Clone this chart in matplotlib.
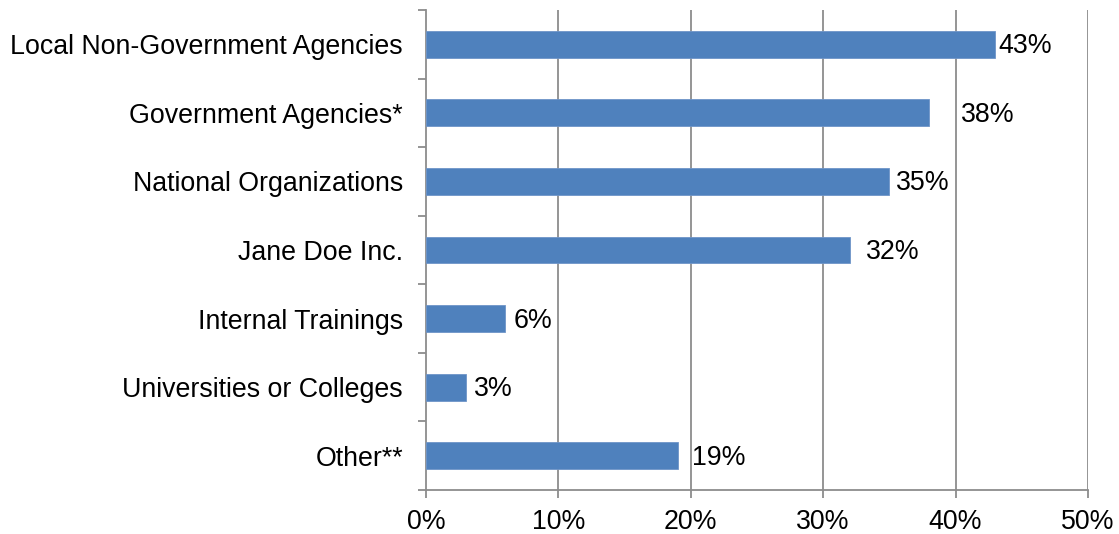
import matplotlib
matplotlib.use("Agg")
import matplotlib.pyplot as plt
import numpy as np

categories = ["Local Non-Government Agencies", "Government Agencies*", "National Organizations",
              "Jane Doe Inc.", "Internal Trainings", "Universities or Colleges", "Other**"]
values = [43, 38, 35, 32, 6, 3, 19]
label_offsets_px = [3, 32, 7, 16, 8, 8, 14]
x_ticks = [0, 10, 20, 30, 40, 50]

plt.rcParams['font.family'] = ['Liberation Sans', 'DejaVu Sans']
fig = plt.figure(figsize=(11.19, 5.34), dpi=100)
ax = fig.add_axes([426/1119, 1-490/534, (1088-426)/1119, 480/534])

FS = 19.3
n = len(categories)
y = np.arange(n)
bar_color = "#4F81BD"
ax.barh(y, values, height=0.39, color=bar_color, edgecolor="#6F95C8", linewidth=0.6, zorder=3)
ax.set_ylim(n - 0.5, -0.5)
ax.set_xlim(0, 50)

grid_c = "#8C8C8C"
for t in x_ticks[1:]:
    ax.axvline(t, color=grid_c, linewidth=1.3, zorder=1)

from matplotlib.transforms import offset_copy
for i, (v, off) in enumerate(zip(values, label_offsets_px)):
    tr = offset_copy(ax.transData, fig=fig, x=off, y=-2, units='dots')
    ax.text(v, i, f"{v}%", transform=tr, va="center", ha="left", fontsize=FS, color="black")

ax.set_yticks(y)
ax.set_yticklabels(categories, fontsize=FS)
ax.tick_params(axis='y', which='major', length=0, pad=16.5)
ax.set_yticks(np.arange(n + 1) - 0.5, minor=True)
ax.tick_params(axis='y', which='minor', length=6, width=1.3, color=grid_c)

ax.set_xticks(x_ticks)
ax.set_xticklabels([f"{t}%" for t in x_ticks], fontsize=FS)
ax.tick_params(axis='x', length=6, width=1.3, color=grid_c, pad=8)

for s in ["top", "right"]:
    ax.spines[s].set_visible(False)
for s in ["left", "bottom"]:
    ax.spines[s].set_color(grid_c)
    ax.spines[s].set_linewidth(1.3)

fig.savefig("out.png", dpi=100)
